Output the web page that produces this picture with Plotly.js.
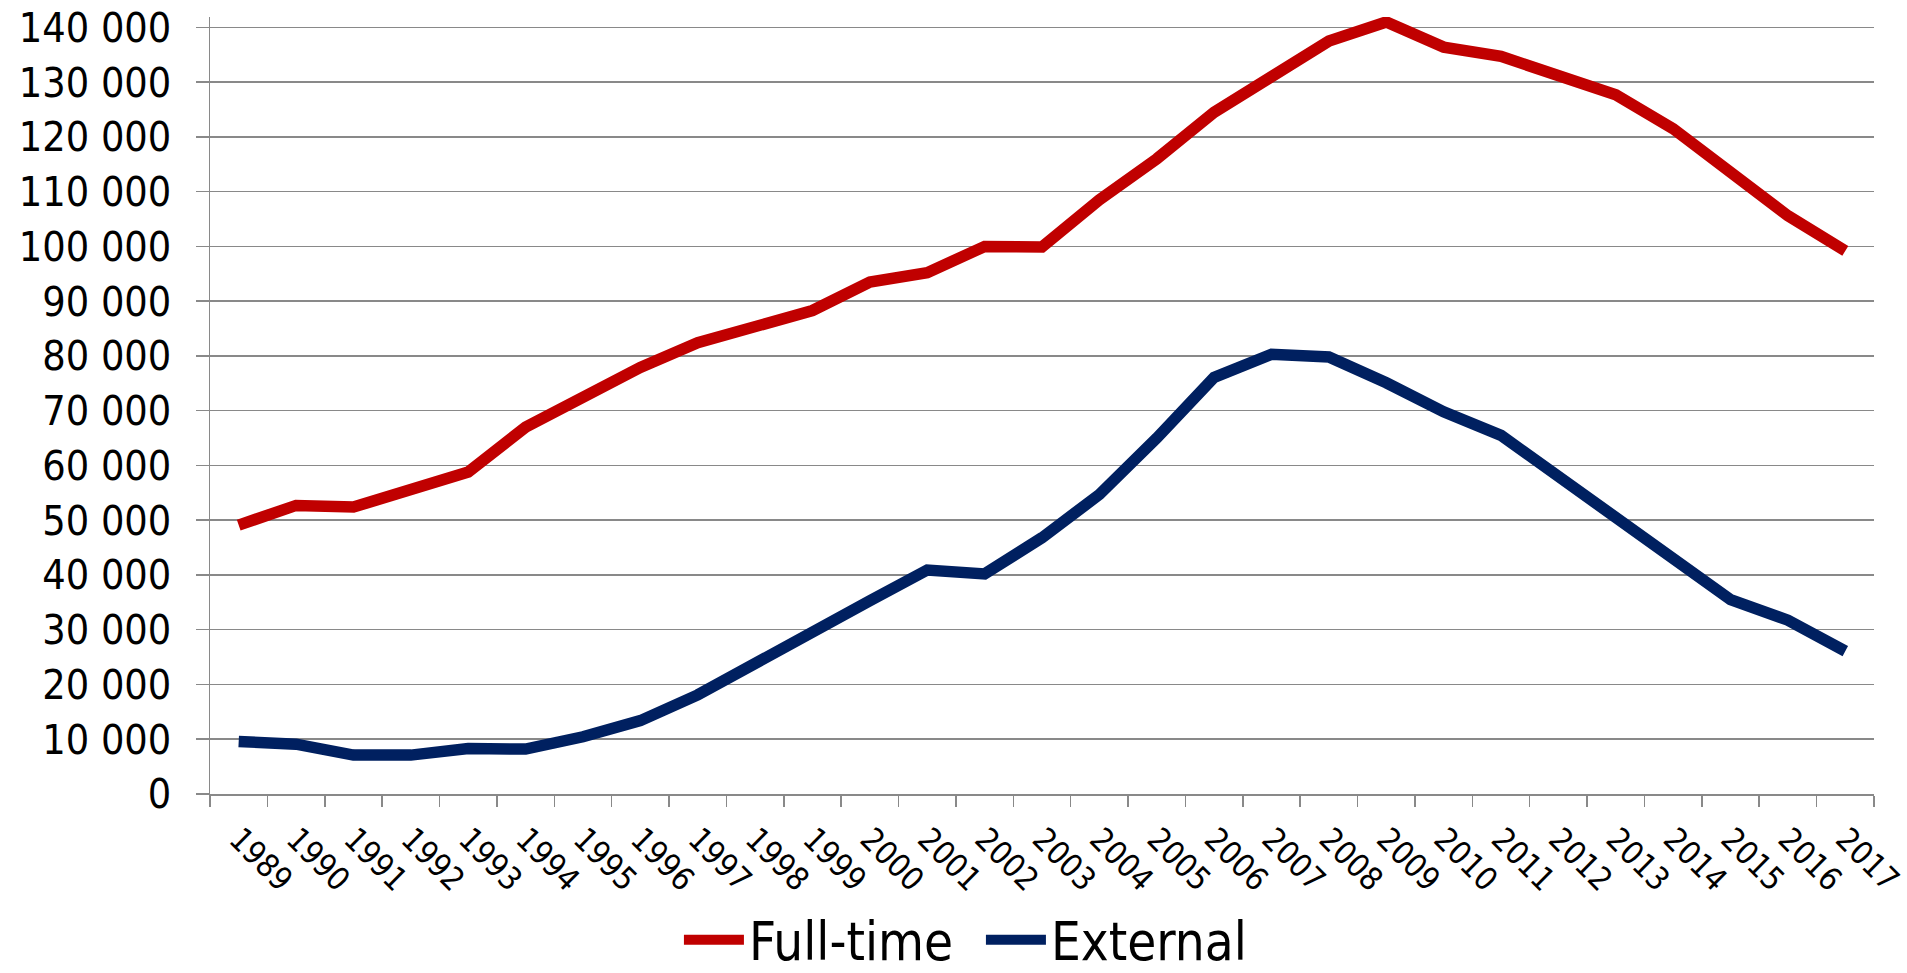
<!DOCTYPE html>
<html>
<head>
<meta charset="utf-8">
<script src="https://cdn.plot.ly/plotly-3.0.1.min.js"></script>
<style>
html, body { margin: 0; padding: 0; background: #fff; }
#chart { width: 1907px; height: 973px; }
</style>
</head>
<body>
<div id="chart"></div>
<script>
const years = ["1989","1990","1991","1992","1993","1994","1995","1996","1997","1998",
  "1999","2000","2001","2002","2003","2004","2005","2006","2007","2008",
  "2009","2010","2011","2012","2013","2014","2015","2016","2017"];

const fullTime = [49100, 52700, 52400, 55500, 58800, 67000, 72600, 77900, 82400, 85400,
  88300, 93500, 95200, 100000, 99900, 108500, 116000, 124500, 131100, 137500,
  141000, 136400, 134700, 131200, 127700, 121500, 113300, 105600, 99200];

const external = [9600, 9100, 7100, 7100, 8300, 8200, 10450, 13400, 18100, 24000,
  29650, 35300, 40900, 40200, 46800, 54700, 65000, 76100, 80300, 79800,
  75100, 69800, 65500, 58000, 50300, 43400, 35500, 31750, 26100];

const seriesNames = ["Full-time", "External"];
const yTickVals = [0, 10000, 20000, 30000, 40000, 50000, 60000, 70000, 80000, 90000, 100000, 110000, 120000, 130000, 140000];

const FONT = "DejaVu Sans Condensed, DejaVu Sans, sans-serif";

const traces = [
  { x: years, y: fullTime, name: seriesNames[0], type: "scatter", mode: "lines",
    line: { color: "#C00000", width: 11.5 } },
  { x: years, y: external, name: seriesNames[1], type: "scatter", mode: "lines",
    line: { color: "#002060", width: 11.5 } }
];

const layout = {
  width: 1907, height: 973,
  paper_bgcolor: "#ffffff", plot_bgcolor: "#ffffff",
  separators: ", ",
  margin: { l: 210, r: 33, t: 17, b: 179, autoexpand: false },
  font: { family: FONT, color: "#000000" },
  showlegend: true,
  legend: {
    orientation: "h", x: 0.4633, xanchor: "center", y: -0.188, yanchor: "middle",
    font: { family: FONT, size: 52.5, color: "#000000" },
    itemwidth: 60, entrywidth: 227, entrywidthmode: "pixels",
    bgcolor: "rgba(0,0,0,0)"
  },
  xaxis: {
    type: "category", range: [-0.5, 28.5],
    showline: true, linecolor: "#898989", linewidth: 1.5,
    showgrid: false, zeroline: false,
    ticks: "outside", ticklen: 11, tickcolor: "#898989", tickwidth: 1.5,
    tickson: "boundaries",
    tickangle: 45,
    ticklabelstandoff: 12,
    tickfont: { family: FONT, size: 32, color: "#000000" }
  },
  yaxis: {
    range: [0, 141900],
    tickvals: yTickVals, tickformat: ",d",
    showline: true, linecolor: "#898989", linewidth: 1.5,
    showgrid: true, gridcolor: "#898989", gridwidth: 1.5,
    zeroline: false,
    ticks: "outside", ticklen: 13, tickcolor: "#898989", tickwidth: 1.5,
    ticklabelstandoff: 16,
    tickfont: { family: FONT, size: 41, color: "#000000" }
  }
};

Plotly.newPlot("chart", traces, layout, { displayModeBar: false, staticPlot: true });
</script>
</body>
</html>
